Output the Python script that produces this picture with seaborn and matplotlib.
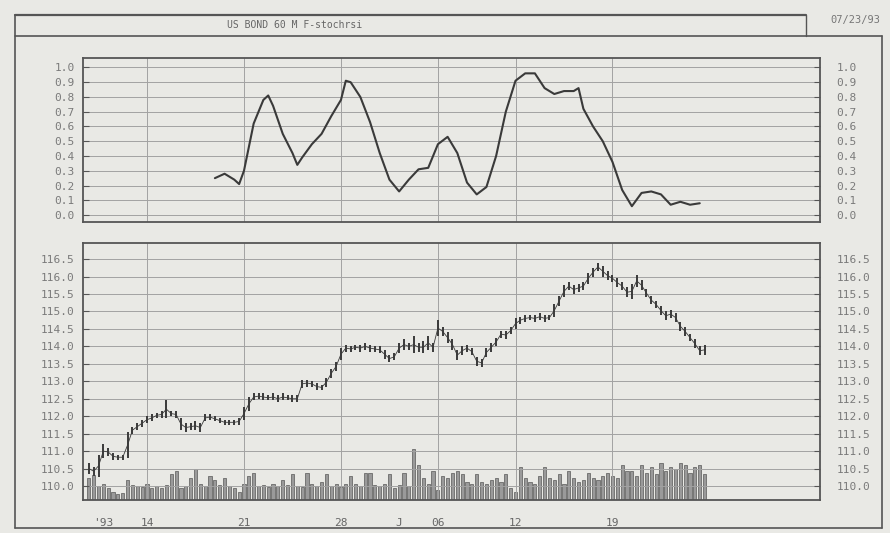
import numpy as np
import matplotlib
matplotlib.use('Agg')
import matplotlib.pyplot as plt
import matplotlib.transforms as mtrans
import seaborn as sns
from matplotlib.lines import Line2D

# 60 minute bars, 4 per trading day, 9 Jun .. 23 Jul 1993
price_low = [110.35, 110.30, 110.25, 110.80, 110.85, 110.75, 110.75, 110.75,
             110.80, 111.50, 111.60, 111.70, 111.80, 111.85, 111.95, 111.95,
             111.95, 112.00, 111.95, 111.60, 111.55, 111.60, 111.60, 111.55,
             111.85, 111.90, 111.85, 111.80, 111.75, 111.75, 111.75, 111.75,
             111.90, 112.15, 112.45, 112.50, 112.45, 112.45, 112.45, 112.40,
             112.45, 112.45, 112.40, 112.40, 112.80, 112.85, 112.85, 112.75,
             112.75, 112.85, 113.10, 113.30, 113.60, 113.85, 113.85, 113.90,
             113.85, 113.90, 113.85, 113.85, 113.80, 113.65, 113.55, 113.60,
             113.80, 113.90, 113.90, 113.80, 113.85, 113.80, 113.90, 113.85,
             114.30, 114.30, 114.10, 113.90, 113.60, 113.75, 113.85, 113.75,
             113.45, 113.40, 113.70, 113.85, 114.00, 114.25, 114.20, 114.35,
             114.50, 114.65, 114.70, 114.75, 114.70, 114.75, 114.70, 114.75,
             114.85, 115.15, 115.40, 115.60, 115.50, 115.55, 115.60, 115.80,
             116.00, 116.15, 116.00, 115.90, 115.85, 115.70, 115.60, 115.40,
             115.35, 115.70, 115.60, 115.40, 115.20, 115.10, 114.90, 114.75,
             114.80, 114.70, 114.45, 114.30, 114.15, 113.95, 113.75, 113.75]
price_high = [110.65, 110.55, 110.90, 111.20, 111.10, 110.95, 110.90, 110.90,
              111.55, 111.70, 111.80, 111.90, 112.00, 112.05, 112.10, 112.15,
              112.45, 112.15, 112.15, 111.95, 111.80, 111.80, 111.85, 111.80,
              112.05, 112.05, 112.00, 111.95, 111.90, 111.90, 111.90, 111.95,
              112.25, 112.55, 112.65, 112.65, 112.65, 112.60, 112.65, 112.60,
              112.65, 112.60, 112.60, 112.60, 113.05, 113.05, 113.00, 112.95,
              112.90, 113.10, 113.35, 113.55, 113.95, 114.05, 114.00, 114.05,
              114.05, 114.10, 114.05, 114.00, 114.00, 113.90, 113.75, 113.80,
              114.10, 114.20, 114.10, 114.30, 114.10, 114.15, 114.30, 114.10,
              114.75, 114.55, 114.40, 114.20, 113.90, 114.00, 114.05, 113.95,
              113.70, 113.65, 113.95, 114.10, 114.25, 114.45, 114.45, 114.55,
              114.80, 114.85, 114.90, 114.90, 114.90, 114.95, 114.90, 114.90,
              115.20, 115.45, 115.75, 115.85, 115.75, 115.80, 115.85, 116.10,
              116.25, 116.40, 116.30, 116.15, 116.05, 115.95, 115.85, 115.70,
              115.80, 116.05, 115.90, 115.65, 115.45, 115.30, 115.15, 115.00,
              115.05, 114.95, 114.70, 114.55, 114.35, 114.20, 114.00, 114.05]
volume = [22, 25, 14, 16, 12, 8, 6, 7,
          20, 15, 14, 13, 16, 12, 14, 12,
          15, 26, 30, 12, 14, 22, 32, 16,
          14, 24, 20, 15, 22, 14, 12, 8,
          16, 24, 28, 14, 15, 13, 16, 14,
          20, 15, 26, 14, 13, 28, 16, 14,
          18, 26, 14, 16, 13, 16, 24, 16,
          14, 28, 28, 15, 14, 16, 26, 12,
          15, 28, 14, 52, 36, 22, 16, 30,
          10, 24, 22, 28, 30, 26, 18, 16,
          26, 18, 16, 20, 22, 18, 26, 12,
          8, 34, 22, 18, 16, 24, 34, 22,
          20, 26, 16, 30, 22, 18, 20, 28,
          22, 20, 24, 28, 24, 22, 36, 30,
          30, 24, 36, 28, 34, 26, 38, 30,
          34, 32, 38, 36, 28, 34, 36, 26]

stoch_bar = [26, 28, 30, 31, 32, 34, 36, 37, 38, 40, 42, 43, 44, 46, 48, 50, 52,
             53, 54, 56, 58, 60, 62, 64, 66, 68, 70, 72, 74, 76, 78, 80, 82, 84,
             86, 88, 90, 92, 94, 96, 98, 100, 101, 102, 104, 106, 108, 110, 112,
             114, 116, 118, 120, 122, 124, 126]
stoch_val = [0.25, 0.28, 0.24, 0.21, 0.30, 0.62, 0.78, 0.81, 0.74, 0.55, 0.42,
             0.34, 0.39, 0.48, 0.55, 0.67, 0.78, 0.91, 0.90, 0.80, 0.63, 0.42,
             0.24, 0.16, 0.24, 0.31, 0.32, 0.48, 0.53, 0.42, 0.22, 0.14, 0.19,
             0.40, 0.70, 0.91, 0.96, 0.96, 0.86, 0.82, 0.84, 0.84, 0.86, 0.72,
             0.60, 0.50, 0.36, 0.17, 0.06, 0.15, 0.16, 0.14, 0.07, 0.09, 0.07,
             0.08]

grid_bars = [12, 32, 52, 72, 88, 108]
grid_labels = ['14', '21', '28', '06', '12', '19']
extra_bars = [3, 64]
extra_labels = ["'93", 'J']
stoch_ticks = [0.0, 0.1, 0.2, 0.3, 0.4, 0.5, 0.6, 0.7, 0.8, 0.9, 1.0]
price_ticks = [110.0, 110.5, 111.0, 111.5, 112.0, 112.5, 113.0, 113.5,
               114.0, 114.5, 115.0, 115.5, 116.0, 116.5]

PAPER = '#e9e9e5'
INK = '#3a3a3a'
GRID = '#a2a2a2'
TXT = '#7a7a7a'

sns.set_style('white')
plt.rcParams['font.family'] = ['DejaVu Sans Mono']

W, H = 890, 533
fig = plt.figure(figsize=(W / 100, H / 100), dpi=100, facecolor=PAPER)

def rect(x0, y0, x1, y1):
    return [x0 / W, 1 - y1 / H, (x1 - x0) / W, (y1 - y0) / H]

def fline(xs, ys, lw=1.2):
    fig.add_artist(Line2D([x / W for x in xs], [1 - y / H for y in ys],
                          color='#555555', lw=lw, transform=fig.transFigure))

# page frame and title strip
fline([15, 806], [15, 15], 1.6)
fline([15, 882], [36, 36], 1.2)
fline([806, 806], [15, 36], 1.0)
fline([15, 15], [15, 528], 1.2)
fline([882, 882], [36, 528], 1.2)
fline([15, 882], [528, 528], 1.2)
fig.text(295 / W, 1 - 25 / H, 'US BOND 60 M F-stochrsi', ha='center', va='center',
         fontsize=7, color='#666666')
fig.text(855 / W, 1 - 20 / H, '07/23/93', ha='center', va='center',
         fontsize=7.5, color='#777777')

XLIM = (-1.2, 150.8)

def style(ax, ticks):
    ax.set_facecolor('none')
    ax.set_xlim(*XLIM)
    ax.set_yticks(ticks, ['%.1f' % t for t in ticks])
    ax.grid(True, which='major', color=GRID, lw=0.7)
    for s in ax.spines.values():
        s.set_visible(True)
        s.set_color('#555555')
        s.set_linewidth(1.3)
    ax.tick_params(axis='y', left=True, right=True, labelleft=True,
                   labelright=True, direction='in', length=4, width=0.8,
                   color='#555555', labelsize=8, labelcolor=TXT, pad=6)
    # right-hand labels sit a little further from the frame
    shift = mtrans.ScaledTranslation(6 / 72, 0, fig.dpi_scale_trans)
    for t in ax.yaxis.get_major_ticks():
        t.label2.set_transform(t.label2.get_transform() + shift)
    ax.set_xlabel('')
    ax.set_ylabel('')

# stochastic panel
ax_st = fig.add_axes(rect(83, 58, 820, 222))
sns.lineplot(x=stoch_bar, y=stoch_val, ax=ax_st, color=INK, lw=1.5)
style(ax_st, stoch_ticks)
ax_st.set_ylim(-0.047, 1.064)
ax_st.set_xticks(grid_bars, [''] * len(grid_bars))
ax_st.tick_params(axis='x', length=0)

# volume underlay
bars = list(range(len(volume)))
ax_vol = fig.add_axes(rect(83, 243, 820, 500))
ax_vol.set_zorder(1)
sns.barplot(x=bars, y=volume, native_scale=True, width=0.65, color='#9a9a9a',
            saturation=1, edgecolor='#6a6a6a', linewidth=0.6, ax=ax_vol)
ax_vol.set_xlim(*XLIM)
ax_vol.set_ylim(0, 262)
ax_vol.set_facecolor(PAPER)
ax_vol.axis('off')

# price panel
ax_pr = fig.add_axes(rect(83, 243, 820, 500))
ax_pr.set_zorder(2)
style(ax_pr, price_ticks)
ax_pr.set_ylim(109.6, 116.96)
ax_pr.vlines(bars, price_low, price_high, color=INK, lw=1.4)
mid = [(a + b) / 2 for a, b in zip(price_low, price_high)]
ax_pr.plot(bars, mid, color=INK, lw=0.6)
ax_pr.set_xticks(grid_bars, grid_labels)
ax_pr.set_xticks(extra_bars, extra_labels, minor=True)
ax_pr.tick_params(axis='x', which='both', length=0, pad=13, labelsize=8,
                  labelcolor='#666666')

fig.savefig('out.png', dpi=100, facecolor=PAPER)
